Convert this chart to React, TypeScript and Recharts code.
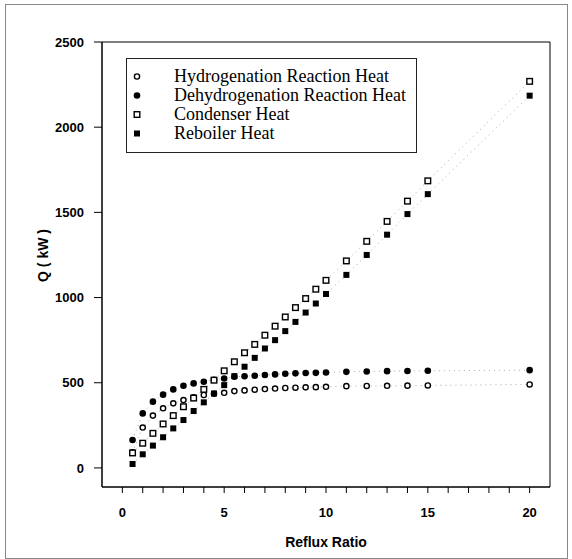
import React from "react";
import {
  ScatterChart,
  Scatter,
  XAxis,
  YAxis,
  Legend,
  ReferenceArea,
} from "recharts";

// reflux ratio values (x) shared by all four series
const refluxRatio = [
  0.5, 1, 1.5, 2, 2.5, 3, 3.5, 4, 4.5, 5, 5.5, 6, 6.5, 7, 7.5, 8, 8.5, 9, 9.5,
  10, 11, 12, 13, 14, 15, 20,
];

// Q (kW) per series
const hydrogenationHeat = [
  92, 237, 307, 350, 379, 398, 414, 428, 435, 441, 451, 455, 459, 463, 466,
  469, 471, 473, 474, 476, 480, 481, 482, 483, 484, 490,
];
const dehydrogenationHeat = [
  164, 320, 389, 430, 461, 482, 496, 506, 517, 525, 535, 538, 541, 545, 549,
  553, 555, 557, 558, 560, 564, 566, 568, 569, 570, 574,
];
const condenserHeat = [
  88, 145, 203, 258, 307, 359, 410, 461, 515, 570, 623, 676, 725, 779, 832,
  886, 941, 994, 1049, 1101, 1215, 1330, 1447, 1566, 1685, 2269,
];
const reboilerHeat = [
  23, 80, 131, 180, 232, 281, 334, 385, 437, 486, 539, 594, 646, 701, 750,
  803, 857, 912, 965, 1021, 1133, 1250, 1369, 1490, 1607, 2185,
];

const xTicks = Array.from({ length: 21 }, (_, i) => i);
const yTicks = [0, 500, 1000, 1500, 2000, 2500];

type MarkerKind = "openCircle" | "filledCircle" | "openSquare" | "filledSquare";

const toPoints = (values: number[]) =>
  refluxRatio.map((x, i) => ({ x, y: values[i] }));

const SERIES: { name: string; values: number[]; marker: MarkerKind }[] = [
  { name: "Hydrogenation Reaction Heat", values: hydrogenationHeat, marker: "openCircle" },
  { name: "Dehydrogenation Reaction Heat", values: dehydrogenationHeat, marker: "filledCircle" },
  { name: "Condenser Heat", values: condenserHeat, marker: "openSquare" },
  { name: "Reboiler Heat", values: reboilerHeat, marker: "filledSquare" },
];

const Marker = ({ kind, cx, cy }: { kind: MarkerKind; cx: number; cy: number }) => {
  switch (kind) {
    case "openCircle":
      return <circle cx={cx} cy={cy} r={2.6} fill="#fff" stroke="#000" strokeWidth={1.4} />;
    case "filledCircle":
      return <circle cx={cx} cy={cy} r={3.3} fill="#000" />;
    case "openSquare":
      return (
        <rect x={cx - 2.8} y={cy - 2.8} width={5.6} height={5.6} fill="#fff" stroke="#000" strokeWidth={1.4} />
      );
    default:
      return <rect x={cx - 3} y={cy - 3} width={6} height={6} fill="#000" />;
  }
};

const LegendBox = () => (
  <div
    style={{
      width: 289,
      height: 93,
      border: "1px solid #222",
      boxSizing: "content-box",
      position: "relative",
      background: "#fff",
    }}
  >
    {SERIES.map((s, i) => (
      <div
        key={s.name}
        style={{
          position: "absolute",
          left: 0,
          top: 8 + i * 19,
          height: 19,
          width: 289,
          display: "flex",
          alignItems: "center",
        }}
      >
        <svg width={20} height={19} style={{ marginLeft: 0 }}>
          <Marker kind={s.marker} cx={10} cy={9.5} />
        </svg>
        <span
          style={{
            marginLeft: 27,
            fontFamily: "'Liberation Serif', 'Times New Roman', serif",
            fontSize: 18,
            color: "#000",
            lineHeight: "19px",
          }}
        >
          {s.name}
        </span>
      </div>
    ))}
  </div>
);

const axisFont = {
  fontFamily: "'Liberation Sans', Arial, sans-serif",
  fontWeight: "bold" as const,
  fontSize: 13,
  fill: "#000",
};

const YTitle = (props: any) => {
  const vb = props.viewBox || { x: 42, y: 42, height: 445 };
  const cx = vb.x + 1;
  const cy = vb.y + vb.height / 2 - 9;
  return (
    <text
      x={cx}
      y={cy}
      transform={`rotate(-90 ${cx} ${cy})`}
      textAnchor="middle"
      dominantBaseline="central"
      style={{ ...axisFont, fontSize: 14 }}
    >
      Q ( kW )
    </text>
  );
};

const XTitle = (props: any) => {
  const vb = props.viewBox || { x: 102, y: 487, width: 448 };
  return (
    <text
      x={vb.x + vb.width / 2}
      y={vb.y + 55}
      textAnchor="middle"
      dominantBaseline="central"
      style={{ ...axisFont, fontSize: 14 }}
    >
      Reflux Ratio
    </text>
  );
};

export default function App() {
  return (
    <div style={{ position: "absolute", left: 0, top: 0, width: 572, height: 559, background: "#fff" }}>
      <div
        style={{
          position: "absolute",
          left: 5,
          top: 4,
          width: 561,
          height: 553,
          border: "1px solid #888",
        }}
      />
      <div style={{ position: "absolute", left: 0, top: 0 }}>
        <ScatterChart
          width={572}
          height={559}
          margin={{ top: 42, right: 22, bottom: 12, left: 42 }}
        >
          <XAxis
            type="number"
            dataKey="x"
            domain={[-1, 21]}
            ticks={xTicks}
            interval={0}
            tickFormatter={(v: number) => (v % 5 === 0 ? String(v) : "")}
            tickSize={6}
            tickMargin={15}
            height={60}
            stroke="#000"
            tick={axisFont}
            allowDataOverflow
            label={{ content: <XTitle /> }}
          />
          <YAxis
            type="number"
            dataKey="y"
            domain={[-112, 2500]}
            ticks={yTicks}
            interval={0}
            tickSize={8}
            tickMargin={10}
            width={60}
            stroke="#000"
            tick={axisFont}
            allowDataOverflow
            label={{ content: <YTitle /> }}
          />
          <ReferenceArea
            x1={-1}
            x2={21}
            y1={-112}
            y2={2500}
            fill="none"
            stroke="#000"
            strokeWidth={1}
            fillOpacity={0}
          />
          <Legend
            layout="vertical"
            align="center"
            verticalAlign="middle"
            wrapperStyle={{ left: 126, top: 58, width: 291, height: 95 }}
            content={<LegendBox />}
          />
          {SERIES.map((s) => (
            <Scatter
              key={s.name}
              name={s.name}
              data={toPoints(s.values)}
              isAnimationActive={false}
              line={{ stroke: "#aaa", strokeWidth: 1, strokeDasharray: "1 4" }}
              lineType="joint"
              shape={(p: any) => <Marker kind={s.marker} cx={p.cx} cy={p.cy} />}
            />
          ))}
        </ScatterChart>
      </div>
    </div>
  );
}
